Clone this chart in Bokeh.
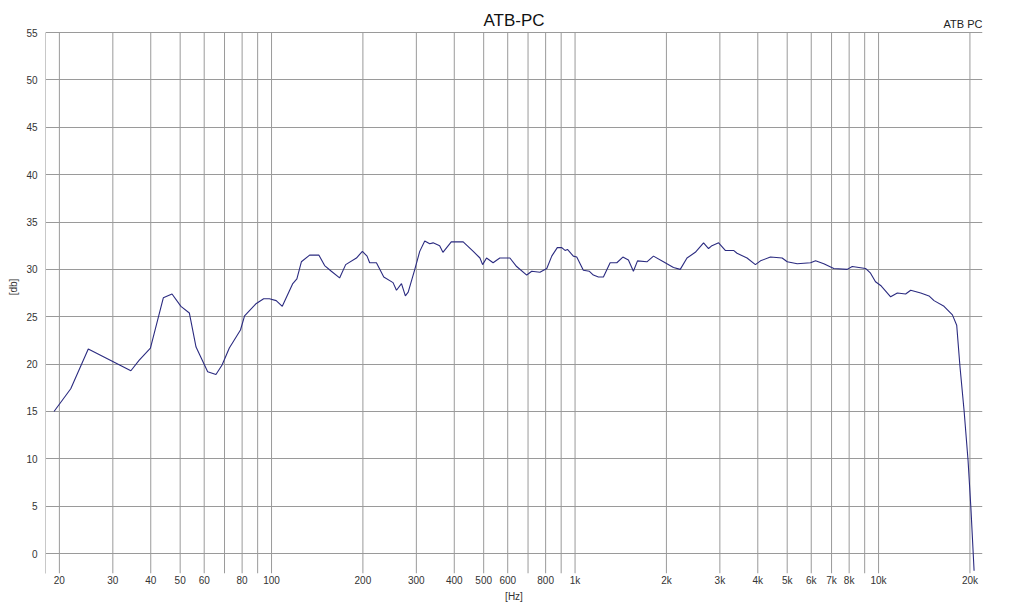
import math
from bokeh.plotting import figure
from bokeh.models import Range1d, FixedTicker, Label
from bokeh.embed import file_html
from bokeh.resources import INLINE

freq = [19.2, 21.8, 24.9, 34.4, 36.6, 39.9, 44.0, 47.0, 50.3, 53.6, 56.4, 61.6, 65.6, 68.7,
        72.6, 79.0, 81.5, 89.1, 94.2, 98.4, 103.6, 108.5, 117.5, 121.2, 125.4, 133.5, 143.3,
        149.6, 157.4, 167.6, 175.5, 190.4, 199.2, 206.4, 210.5, 221.6, 234.3, 251.4, 258,
        268, 276, 282, 296.5, 307.8, 319.7, 332, 340.7, 358, 367, 391, 428, 462, 486, 496,
        511, 537, 565, 610, 642, 693, 720, 766, 807, 838, 874, 904, 927, 944, 987, 1013,
        1065, 1115, 1149, 1194, 1240, 1305, 1373, 1437, 1499, 1557, 1606, 1725, 1813, 1955,
        2110, 2221, 2338, 2490, 2651, 2753, 2825, 2972, 3126, 3329, 3417, 3687, 3928, 4083,
        4404, 4812, 5000, 5396, 5970, 6200, 6600, 7120, 7880, 8190, 9060, 9410, 9770,
        10160, 10960, 11530, 12280, 12760, 13770, 14660, 15230, 16430, 17510, 18090,
        18550, 19130, 19720, 20140, 20640]
db = [15.0, 17.4, 21.6, 19.3, 20.4, 21.7, 27.0, 27.4, 26.1, 25.4, 21.8, 19.2, 18.9, 19.9,
      21.7, 23.6, 25.1, 26.4, 26.9, 26.9, 26.7, 26.1, 28.5, 29.0, 30.8, 31.5, 31.5,
      30.4, 29.8, 29.1, 30.5, 31.2, 31.9, 31.4, 30.7, 30.7, 29.2, 28.6, 27.8,
      28.5, 27.2, 27.6, 30.0, 31.9, 33.0, 32.7, 32.8, 32.5, 31.8, 32.9, 32.9, 31.9, 31.2, 30.5,
      31.2, 30.7, 31.2, 31.2, 30.3, 29.4, 29.8, 29.7, 30.1, 31.4, 32.3, 32.3, 32.0, 32.1, 31.4, 31.3,
      29.9, 29.8, 29.4, 29.2, 29.2, 30.7, 30.7, 31.3, 31.0, 29.8, 30.9, 30.8, 31.4, 30.8,
      30.2, 30.0, 31.2, 31.8, 32.8, 32.2, 32.5, 32.8, 32.0, 32.0, 31.7, 31.2, 30.5, 30.9,
      31.3, 31.2, 30.8, 30.6, 30.7, 30.9, 30.6, 30.1, 30.0, 30.3, 30.1, 29.6, 28.7,
      28.3, 27.1, 27.5, 27.4, 27.8, 27.5, 27.2, 26.7, 26.1, 25.2, 24.1,
      19.7, 15.1, 9.8, 4.9, -1.8]

x_grid = [20, 30, 40, 50, 60, 70, 80, 90, 100, 200, 300, 400, 500, 600, 700, 800, 900,
          1000, 2000, 3000, 4000, 5000, 6000, 7000, 8000, 9000, 10000, 20000]
x_labels = ["20", "30", "40", "50", "60", "", "80", "", "100", "200", "300", "400", "500",
            "600", "", "800", "", "1k", "2k", "3k", "4k", "5k", "6k", "7k", "8k", "", "10k", "20k"]
y_ticks = [0, 5, 10, 15, 20, 25, 30, 35, 40, 45, 50, 55]

FONT = "Liberation Sans"
X_LO, X_HI = 18, 22000
Y_LO, Y_TOP = -2.1, 55
Y_HI = 58.38  # extra head room inside the frame for the titles

p = figure(width=1016, height=604, x_axis_type="log",
           x_range=Range1d(X_LO, X_HI), y_range=Range1d(Y_LO, Y_HI),
           output_backend="svg", toolbar_location=None,
           min_border_left=45, min_border_right=34, min_border_top=0, min_border_bottom=31)
p.outline_line_color = None
p.background_fill_color = "white"
p.border_fill_color = "white"

p.xaxis.ticker = FixedTicker(ticks=x_grid)
p.xaxis.major_label_overrides = {float(t): l for t, l in zip(x_grid, x_labels)}
p.xgrid.visible = False
p.yaxis.ticker = FixedTicker(ticks=y_ticks)
p.ygrid.ticker = FixedTicker(ticks=y_ticks)

for ax in (p.xaxis[0], p.yaxis[0]):
    ax.major_tick_line_color = None
    ax.minor_tick_line_color = None
    ax.major_tick_out = 0
    ax.major_tick_in = 0
    ax.minor_tick_out = 0
    ax.minor_tick_in = 0
    ax.major_label_text_font = FONT
    ax.major_label_text_font_size = "10px"
    ax.major_label_text_color = "#333333"
    ax.axis_label_text_font = FONT
    ax.axis_label_text_font_size = "10px"
    ax.axis_label_text_font_style = "normal"
    ax.axis_label_text_color = "#333333"

p.xaxis.axis_line_color = None
p.xaxis.major_label_standoff = 1
p.xaxis.axis_label = "[Hz]"
p.xaxis.axis_label_standoff = 2
p.yaxis.axis_line_color = "#c8c8c8"
p.yaxis.bounds = (Y_LO, Y_TOP)
p.yaxis.major_label_standoff = 8
p.yaxis.axis_label = "[db]"
p.yaxis.axis_label_standoff = 4

p.ygrid.grid_line_color = "#9a9a9a"
p.ygrid.grid_line_width = 1

# vertical grid lines, stopping at the top of the value range
n = len(x_grid)
p.segment(x0=x_grid, y0=[Y_LO] * n, x1=x_grid, y1=[Y_TOP] * n,
          line_color="#9a9a9a", line_width=1)

p.line(freq, db, line_color="#2b2b80", line_width=1.1)

p.add_layout(Label(x=math.sqrt(X_LO * X_HI), y=Y_TOP, y_offset=12, text="ATB-PC",
                   text_align="center", text_baseline="middle", text_font=FONT,
                   text_font_size="17px", text_color="#111111"))
p.add_layout(Label(x=X_HI, y=Y_TOP, y_offset=3, text="ATB PC", text_align="right",
                   text_baseline="bottom", text_font=FONT,
                   text_font_size="11px", text_color="#222222"))

open("out.html", "w").write(file_html(p, INLINE))
